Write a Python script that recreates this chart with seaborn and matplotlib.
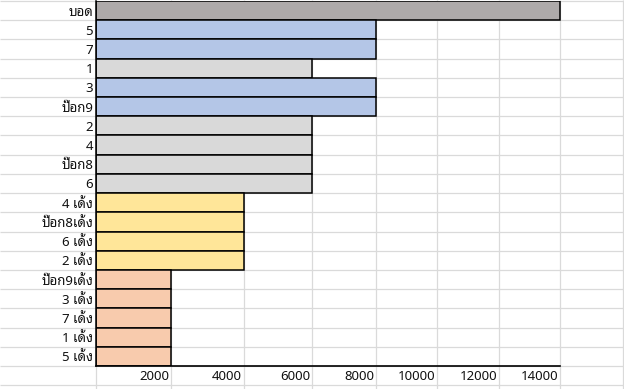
import numpy as np
import matplotlib
matplotlib.use("Agg")
import matplotlib.pyplot as plt
import matplotlib.transforms as mtransforms
import seaborn as sns

# data
labels = ["บอด", "5", "7", "1", "3", "ป๊อก9", "2", "4", "ป๊อก8", "6",
          "4 เด้ง", "ป๊อก8เด้ง", "6 เด้ง", "2 เด้ง",
          "ป๊อก9เด้ง", "3 เด้ง", "7 เด้ง", "1 เด้ง", "5 เด้ง"]
values = [14000, 8000, 8000, 6000, 8000, 8000, 6000, 6000, 6000, 6000,
          4000, 4000, 4000, 4000,
          2000, 2000, 2000, 2000, 2000]
bar_colors = ["#AEAAAA", "#B4C6E7", "#B4C6E7", "#D9D9D9", "#B4C6E7", "#B4C6E7",
              "#D9D9D9", "#D9D9D9", "#D9D9D9", "#D9D9D9",
              "#FFE699", "#FFE699", "#FFE699", "#FFE699",
              "#F8CBAD", "#F8CBAD", "#F8CBAD", "#F8CBAD", "#F8CBAD"]
xticks = [2000, 4000, 6000, 8000, 10000, 12000, 14000]

# spreadsheet columns are not equally wide -> piecewise scale
col_vals = [0, 2000, 4000, 6000, 8000, 10000, 12000, 14000, 16000]
col_px = [96, 171, 244, 312, 376, 437, 499, 560, 623]

def fwd(x):
    return np.interp(x, col_vals, col_px)

def inv(p):
    return np.interp(p, col_px, col_vals)

plt.rcParams["font.family"] = ["Noto Sans", "Noto Sans Thai Looped", "DejaVu Sans"]

W, H = 624, 389
fig = plt.figure(figsize=(W / 100, H / 100), dpi=100)
ax = fig.add_axes([96 / W, (H - 366) / H, (623 - 96) / W, 365 / H])

sns.barplot(x=values, y=labels, hue=labels, palette=bar_colors, orient="h",
            width=1.0, saturation=1, edgecolor="black", linewidth=1.1,
            legend=False, ax=ax, zorder=2)

ax.set_xscale("function", functions=(fwd, inv))
ax.set_xlim(0, 16000)
ax.set_ylim(len(labels) - 0.5, -0.5)

grid_c = "#DADADA"
# sheet gridlines: rows across the whole width, columns down to the bottom
hy = mtransforms.blended_transform_factory(fig.transFigure, ax.transData)
ax.hlines(np.arange(-0.5, len(labels) + 1), 0, 1, transform=hy,
          color=grid_c, lw=0.9, clip_on=False, zorder=0.5)
vx = mtransforms.blended_transform_factory(ax.transData, fig.transFigure)
ax.vlines(col_vals, 0, 1, transform=vx, color=grid_c, lw=0.9,
          clip_on=False, zorder=0.5)

for s in ["top", "right"]:
    ax.spines[s].set_visible(False)
ax.spines["left"].set_color("black")
ax.spines["left"].set_linewidth(1.1)
ax.spines["bottom"].set_color("black")
ax.spines["bottom"].set_linewidth(1.2)
ax.spines["bottom"].set_bounds(0, 14000)

ax.set_xticks(xticks)
ax.set_xticklabels([str(v) for v in xticks], ha="right", va="center")
ax.tick_params(axis="x", length=0, pad=7.2, labelsize=9.5, labelcolor="#111111")
ax.tick_params(axis="y", length=0, pad=2, labelsize=9.5, labelcolor="#111111")
offset = mtransforms.ScaledTranslation(-2 / 100, 0, fig.dpi_scale_trans)
for lab in ax.get_xticklabels():
    lab.set_transform(lab.get_transform() + offset)

ax.set_xlabel("")
ax.set_ylabel("")
ax.grid(False)

fig.savefig("out.png", dpi=100)
